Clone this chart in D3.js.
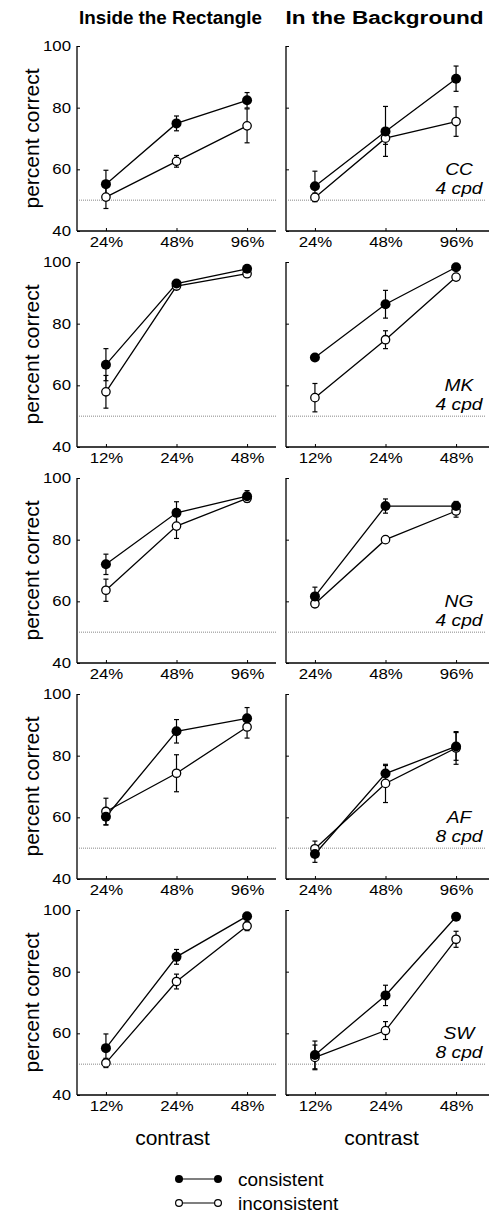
<!DOCTYPE html>
<html lang="en">
<head>
<meta charset="UTF-8">
<title>Percent correct vs contrast</title>
<script src="https://d3js.org/d3.v7.min.js"></script>
<style>
    body { margin: 0; background: #fff; }
    svg { display: block; font-family: "Liberation Sans", Arial, Helvetica, sans-serif; }
    .tick text { font-size: 14px; fill: #000; }
    .tick line { stroke: #000; }
</style>
</head>
<body>
<svg width="489" height="1213"></svg>
<script>
    const columnTitles = ["Inside the Rectangle", "In the Background"];
    const subjects = ["CC", "MK", "NG", "AF", "SW"];
    const cpd = ["4 cpd", "4 cpd", "4 cpd", "8 cpd", "8 cpd"];
    const contrasts = [
        ["24%", "48%", "96%"],
        ["12%", "24%", "48%"],
        ["24%", "48%", "96%"],
        ["24%", "48%", "96%"],
        ["12%", "24%", "48%"]
    ];
    const yTicks = [40, 60, 80, 100];
    const chance = 50;
    const legendLabels = ["consistent", "inconsistent"];

    // inside the rectangle
    const insideCons = [[55.2, 74.9, 82.4], [66.7, 93.0, 97.8], [72.0, 88.7, 94.1], [60.2, 87.9, 92.1], [55.2, 84.8, 98.0]];
    const insideConsErr = [[4.5, 2.4, 2.5], [5.2, 0.6, 0.6], [3.3, 3.6, 1.8], [2.7, 3.8, 3.5], [4.6, 2.4, 0.5]];
    const insideIncons = [[51.0, 62.6, 74.1], [57.9, 92.2, 96.2], [63.6, 84.4, 93.4], [61.9, 74.3, 89.3], [50.4, 76.8, 94.8]];
    const insideInconsErr = [[3.7, 1.9, 5.5], [5.3, 0.6, 0.8], [3.6, 4.0, 1.2], [4.3, 6.0, 3.6], [1.5, 2.4, 1.5]];

    // in the background
    const backCons = [[54.5, 72.3, 89.4], [69.0, 86.3, 98.3], [61.6, 90.9, 90.9], [48.1, 74.2, 83.0], [53.0, 72.3, 97.8]];
    const backConsErr = [[4.9, 8.1, 4.1], [0.6, 4.5, 0.5], [3.0, 2.3, 1.5], [2.7, 2.6, 4.5], [4.5, 3.3, 0.5]];
    const backIncons = [[50.9, 70.1, 75.5], [56.0, 74.8, 95.1], [59.2, 80.0, 89.3], [49.8, 71.0, 82.5], [52.2, 60.9, 90.5]];
    const backInconsErr = [[1.4, 2.0, 4.8], [4.6, 2.9, 1.0], [1.0, 1.0, 2.0], [2.5, 6.2, 5.3], [4.0, 2.9, 2.6]];

    const columns = [
        { cons: insideCons, consErr: insideConsErr, incons: insideIncons, inconsErr: insideInconsErr },
        { cons: backCons, consErr: backConsErr, incons: backIncons, inconsErr: backInconsErr }
    ];

    const svg = d3.select("svg");
    const colX = [77, 286];
    const panelW = 199;
    const panelH = 185;
    const rowTop = r => 46 + r * 216;

    // column titles
    const titleBox = [[79, 183], [285.5, 198]];
    columnTitles.forEach((t, c) => {
        svg.append("text")
            .attr("x", titleBox[c][0]).attr("y", 24)
            .attr("font-size", 17.5).attr("font-weight", "bold")
            .attr("textLength", titleBox[c][1]).attr("lengthAdjust", "spacingAndGlyphs")
            .text(t);
    });

    subjects.forEach((subj, r) => {
        const top = rowTop(r);
        const y = d3.scaleLinear().domain([40, 100]).range([top + panelH, top]);

        // y label
        svg.append("text")
            .attr("transform", `translate(38.5,${top + panelH / 2}) rotate(-90)`)
            .attr("text-anchor", "middle")
            .attr("font-size", 21)
            .text("percent correct");

        columns.forEach((col, c) => {
            const x0 = colX[c];
            const x = d3.scalePoint().domain(contrasts[r]).range([x0, x0 + panelW]).padding(0.41);
            const g = svg.append("g");

            // chance line
            g.append("line")
                .attr("x1", x0 + 2).attr("x2", x0 + panelW)
                .attr("y1", y(chance)).attr("y2", y(chance))
                .attr("stroke", "#888").attr("stroke-width", 1).attr("stroke-dasharray", "1,1");

            // axes
            const ya = g.append("g").attr("transform", `translate(${x0},0)`)
                .call(d3.axisLeft(y).tickValues(yTicks).tickSize(-3).tickPadding(5));
            ya.select(".domain").remove();
            if (c === 1) ya.selectAll(".tick text").remove();
            ya.selectAll(".tick text").attr("transform", "scale(1.2,1)");

            const xa = g.append("g").attr("transform", `translate(0,${top + panelH})`)
                .call(d3.axisBottom(x).tickSize(-3).tickPadding(6.5));
            xa.select(".domain").remove();
            xa.selectAll(".tick text").attr("transform", "scale(1.2,1)");

            g.append("line")
                .attr("x1", x0).attr("x2", x0)
                .attr("y1", y(100)).attr("y2", y(40))
                .attr("stroke", "#000").attr("stroke-width", 1.3);
            g.append("line")
                .attr("x1", x0).attr("x2", c === 1 ? 489 : x0 + panelW)
                .attr("y1", y(40)).attr("y2", y(40))
                .attr("stroke", "#000").attr("stroke-width", 1.3);

            const series = [
                { vals: col.incons[r], errs: col.inconsErr[r], filled: false },
                { vals: col.cons[r], errs: col.consErr[r], filled: true }
            ];

            const line = d3.line().x((d, i) => x(contrasts[r][i])).y(d => y(d));

            series.forEach(s => {
                s.vals.forEach((v, i) => {
                    const cx = x(contrasts[r][i]);
                    const e = s.errs[i];
                    g.append("line")
                        .attr("x1", cx).attr("x2", cx)
                        .attr("y1", y(v - e)).attr("y2", y(v + e))
                        .attr("stroke", "#000").attr("stroke-width", 1.2);
                    [v - e, v + e].forEach(w => {
                        g.append("line")
                            .attr("x1", cx - 2.5).attr("x2", cx + 2.5)
                            .attr("y1", y(w)).attr("y2", y(w))
                            .attr("stroke", "#000").attr("stroke-width", 1.2);
                    });
                });
            });

            series.forEach(s => {
                g.append("path")
                    .attr("d", line(s.vals))
                    .attr("fill", "none")
                    .attr("stroke", "#000").attr("stroke-width", 1.3);
            });

            series.forEach(s => {
                g.selectAll(null)
                    .data(s.vals)
                    .enter().append("circle")
                    .attr("cx", (d, i) => x(contrasts[r][i]))
                    .attr("cy", d => y(d))
                    .attr("r", s.filled ? 5 : 4.2)
                    .attr("fill", s.filled ? "#000" : "#fff")
                    .attr("stroke", "#000").attr("stroke-width", s.filled ? 0 : 1.3);
            });

            // subject label
            if (c === 1) {
                g.append("text")
                    .attr("transform", `translate(${x0 + 173},${top + 129}) scale(1.2,1)`)
                    .attr("text-anchor", "middle").attr("font-size", 16).attr("font-style", "italic")
                    .text(subj);
                g.append("text")
                    .attr("transform", `translate(${x0 + 173},${top + 148}) scale(1.2,1)`)
                    .attr("text-anchor", "middle").attr("font-size", 16).attr("font-style", "italic")
                    .text(cpd[r]);
            }

            // x label on last row
            if (r === subjects.length - 1) {
                g.append("text")
                    .attr("x", x(contrasts[r][1]) - 4).attr("y", 1145)
                    .attr("text-anchor", "middle").attr("font-size", 21)
                    .text("contrast");
            }
        });
    });

    // legend
    const legend = svg.append("g");
    legendLabels.forEach((lab, i) => {
        const ly = 1179 + i * 24;
        legend.append("line")
            .attr("x1", 179).attr("x2", 218).attr("y1", ly).attr("y2", ly)
            .attr("stroke", "#000").attr("stroke-width", 1.1);
        [179, 218].forEach(cx => {
            legend.append("circle")
                .attr("cx", cx).attr("cy", ly)
                .attr("r", i === 0 ? 4 : 3.4)
                .attr("fill", i === 0 ? "#000" : "#fff")
                .attr("stroke", "#000").attr("stroke-width", i === 0 ? 0 : 1.2);
        });
        legend.append("text")
            .attr("x", 238).attr("y", ly + 6.5)
            .attr("font-size", 19)
            .text(lab);
    });
</script>
</body>
</html>
